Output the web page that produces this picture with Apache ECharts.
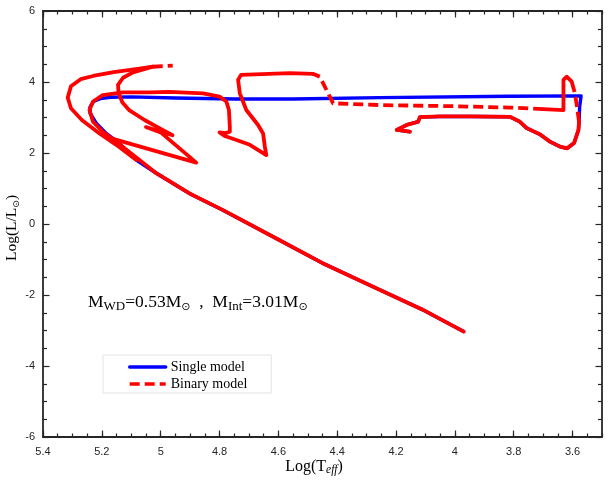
<!DOCTYPE html>
<html>
<head>
<meta charset="utf-8">
<script src="https://cdn.jsdelivr.net/npm/echarts@6/dist/echarts.min.js"></script>
<style>html,body{margin:0;padding:0;background:#fff}#c{width:608px;height:483px}</style>
</head>
<body>
<div id="c"></div>
<script>
// ---- tick labels ----
const xTickValues = [5.4, 5.2, 5.0, 4.8, 4.6, 4.4, 4.2, 4.0, 3.8, 3.6];
const xTickLabels = ['5.4', '5.2', '5', '4.8', '4.6', '4.4', '4.2', '4', '3.8', '3.6'];

// ---- shared early evolution (main sequence hook -> base of giant branch) ----
const msTrack = [[4.153,2.60],[4.198,2.65],[4.164,2.79],[4.125,2.88],[4.119,3.01],[4.051,3.03],[3.949,3.03],
  [3.813,3.02],[3.779,2.88],[3.756,2.70],[3.71,2.52],[3.677,2.32],[3.643,2.18],[3.619,2.13],[3.595,2.28],
  [3.580,2.65],[3.578,2.88]];
// ---- white dwarf cooling track ----
const coolTrack = [[5.083,1.80],[5.015,1.43],[4.902,0.86],[4.788,0.39],[4.618,-0.36],[4.448,-1.11],
  [4.278,-1.77],[4.108,-2.42],[3.97,-3.03]];

// ---- single model (after the shared part) ----
const singleBranch = [[3.576,3.30],[3.571,3.61],[3.813,3.60],[4.255,3.56],[4.55,3.52],[4.75,3.52],[4.95,3.55],
  [5.10,3.58],[5.17,3.57],[5.205,3.53],[5.228,3.45],[5.24,3.30],[5.24,3.12],[5.219,2.84],[5.185,2.55],[5.14,2.27]];

// ---- binary model pieces ----
const binJump1 = [[3.578,2.88],[3.585,3.30],[3.592,3.68],[3.603,4.01]];
const binTip = [[3.603,4.01],[3.62,4.15],[3.631,4.06],[3.631,3.21],[3.70,3.235]];
const binJump2 = [[3.70,3.235],[3.813,3.28],[4.017,3.32],[4.255,3.35],[4.414,3.40],[4.459,4.15],[4.483,4.23]];
const binLoop = [[4.483,4.23],[4.561,4.25],[4.727,4.20],[4.737,4.06],[4.731,3.68],[4.709,3.21],[4.669,2.79],
  [4.652,2.55],[4.646,2.18],[4.641,1.94],[4.697,2.23],[4.74,2.36],[4.78,2.47],[4.80,2.58],[4.78,2.56],
  [4.765,2.60],[4.765,2.74],[4.768,3.21],[4.777,3.45],[4.80,3.59],[4.856,3.68],[4.97,3.72],[5.038,3.71],
  [5.128,3.71],[5.197,3.63],[5.23,3.45],[5.242,3.21],[5.23,2.88],[5.197,2.60],[5.151,2.32]];
const binOuter = [[5.027,4.43],[5.072,4.38],[5.16,4.28],[5.23,4.17],[5.272,4.08],[5.305,3.88],[5.316,3.56],
  [5.305,3.26],[5.268,2.93],[5.208,2.55],[5.151,2.23],[5.083,1.80]];
const binSecond = [[5.027,4.43],[5.094,4.27],[5.128,4.12],[5.145,3.92],[5.143,3.68],[5.13,3.42],[5.106,3.20],
  [5.055,2.93],[5.0,2.68],[4.96,2.50],[5.05,2.73],[5.0,2.58],[4.879,1.73],[5.18,2.44]];
const binTopDash = [[5.027,4.43],[4.959,4.46]];

const BLUE = '#0000ff', RED = '#ff0000', AX = '#262626';
const SERIF = '"Liberation Serif", "DejaVu Serif", serif';
const SANS = '"Liberation Sans", Arial, sans-serif';
const SYM = '"DejaVu Sans", sans-serif';

function labelOf(v){ const i = xTickValues.findIndex(t => Math.abs(t - v) < 1e-6); return i >= 0 ? xTickLabels[i] : ''; }

const blueData = msTrack.concat(singleBranch, coolTrack);
const redSolidStyle = {color: RED, width: 3.8, type: 'solid', cap: 'round', join: 'round'};
const redDashStyle = {color: RED, width: 3.8, type: [10, 5], cap: 'butt', join: 'round'};

function line(name, data, ls, z){
  return {type:'line', name, data, showSymbol:false, symbol:'none', smooth:false, lineStyle: ls,
    itemStyle:{color: ls.color}, z: z, animation:false, xAxisIndex:0, yAxisIndex:0};
}

const xBase = {type:'value', min:3.5, max:5.4, inverse:true, splitLine:{show:false}, scale:true};
const chart = echarts.init(document.getElementById('c'), null, {renderer:'canvas'});
chart.setOption({
  animation:false,
  backgroundColor:'#fff',
  grid:{left:43, right:6, top:11, bottom:46, containLabel:false},
  xAxis:[
    Object.assign({}, xBase, {position:'bottom', interval:0.05,
      axisLine:{show:true, onZero:false, lineStyle:{color:AX, width:1.8}},
      axisTick:{show:true, inside:true, length:3.5, lineStyle:{color:AX, width:1.2}},
      axisLabel:{show:true, margin:9, color:AX, fontSize:11, fontFamily:SANS, formatter:(v)=>labelOf(v),
        showMinLabel:true, showMaxLabel:true, hideOverlap:false}}),
    Object.assign({}, xBase, {position:'top', interval:0.05,
      axisLine:{show:true, onZero:false, lineStyle:{color:AX, width:1.8}},
      axisTick:{show:true, inside:true, length:3.5, lineStyle:{color:AX, width:1.2}},
      axisLabel:{show:false}}),
    Object.assign({}, xBase, {position:'bottom',
      axisLine:{show:false, onZero:false},
      axisTick:{show:true, inside:true, length:6.5, customValues: xTickValues, lineStyle:{color:AX, width:1.2}},
      axisLabel:{show:false, customValues: xTickValues}}),
    Object.assign({}, xBase, {position:'top',
      axisLine:{show:false, onZero:false},
      axisTick:{show:true, inside:true, length:6.5, customValues: xTickValues, lineStyle:{color:AX, width:1.2}},
      axisLabel:{show:false, customValues: xTickValues}})
  ],
  yAxis:[
    {type:'value', min:-6, max:6, interval:2, position:'left',
      axisLine:{show:true, onZero:false, lineStyle:{color:AX, width:1.8}},
      axisTick:{show:true, inside:true, length:6.5, lineStyle:{color:AX, width:1.2}},
      minorTick:{show:true, splitNumber:4, length:4, lineStyle:{color:AX, width:1.2}},
      axisLabel:{show:true, margin:8, color:AX, fontSize:11, fontFamily:SANS},
      splitLine:{show:false}},
    {type:'value', min:-6, max:6, interval:2, position:'right',
      axisLine:{show:true, onZero:false, lineStyle:{color:AX, width:1.8}},
      axisTick:{show:true, inside:true, length:6.5, lineStyle:{color:AX, width:1.2}},
      minorTick:{show:true, splitNumber:4, length:4, lineStyle:{color:AX, width:1.2}},
      axisLabel:{show:false}, splitLine:{show:false}}
  ],
  legend:{
    left:103, top:355, orient:'vertical', itemWidth:36, itemHeight:7, itemGap:3,
    padding:[5,24,2,25], borderColor:'#e3e3e3', borderWidth:1, backgroundColor:'#fff',
    itemStyle:{opacity:0, borderWidth:0},
    lineStyle:{width:3.4},
    textStyle:{fontFamily:SERIF, fontSize:14, color:'#000', lineHeight:14},
    data:['Single model','Binary model'], selectedMode:false
  },
  series:[
    line('Single model', blueData, {color:BLUE, width:3.4, type:'solid', cap:'round', join:'round'}, 2),
    line('Binary model', binJump1, redDashStyle, 3),
    line('Binary model', binJump2, redDashStyle, 3),
    line('Binary model', binTopDash, redDashStyle, 3),
    line('Binary model', msTrack, redSolidStyle, 4),
    line('Binary model', binTip, redSolidStyle, 4),
    line('Binary model', binLoop.concat(coolTrack.slice(1)), redSolidStyle, 4),
    line('Binary model', binOuter, redSolidStyle, 4),
    line('Binary model', binSecond, redSolidStyle, 4)
  ],
  graphic:[
    {type:'text', x:314, y:457, style:{
      text:'{a|Log(T}{s|eff}{a|)}', align:'center', verticalAlign:'top',
      rich:{a:{fontFamily:SERIF, fontSize:16, color:'#000', lineHeight:19},
            s:{fontFamily:SERIF, fontSize:11.5, fontStyle:'italic', color:'#000', lineHeight:13, verticalAlign:'bottom'}}}},
    {type:'text', x:3, y:228, rotation:Math.PI/2, style:{
      text:'{a|Log(L/L}{s|⊙}{a|)}', align:'center', verticalAlign:'top',
      rich:{a:{fontFamily:SERIF, fontSize:15.5, color:'#000', lineHeight:18},
            s:{fontFamily:SYM, fontSize:9, color:'#000', lineHeight:11, verticalAlign:'bottom'}}}},
    {type:'text', x:88, y:291, style:{
      text:'{m|M}{s|WD}{m|=0.53M}{o|⊙}{m|  ,  M}{s|Int}{m|=3.01M}{o|⊙}',
      rich:{m:{fontFamily:SERIF, fontSize:17.5, color:'#000', lineHeight:22},
            s:{fontFamily:SERIF, fontSize:13, color:'#000', lineHeight:14, verticalAlign:'bottom'},
            o:{fontFamily:SYM, fontSize:11, color:'#000', lineHeight:12, verticalAlign:'bottom'}}}}
  ]
});
</script>
</body>
</html>
